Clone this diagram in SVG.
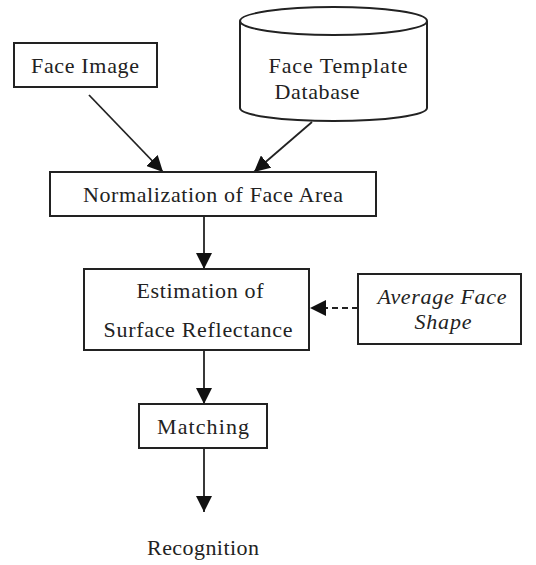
<svg xmlns="http://www.w3.org/2000/svg" width="536" height="565" viewBox="0 0 536 565">
<defs>
<style>
.box{fill:#fff;stroke:#222;stroke-width:2}
.t{font-family:"Liberation Serif","DejaVu Serif",serif;font-size:22px;fill:#222;text-anchor:middle}
.i{font-style:italic}
.c{stroke:#222;stroke-width:1.8;fill:none}
.d{stroke-dasharray:6,4}
</style>
<marker id="ah" markerUnits="userSpaceOnUse" markerWidth="16" markerHeight="16" viewBox="0 0 16 16" refX="16" refY="8" orient="auto">
<path d="M0,0 L16,8 L0,16 Z" fill="#111"/>
</marker>
</defs>
<rect width="536" height="565" fill="#fff"/>
<g id="connectors">
<line class="c" x1="89" y1="95" x2="163" y2="172" marker-end="url(#ah)"/>
<line class="c" x1="312" y1="122" x2="254" y2="172" marker-end="url(#ah)"/>
<line class="c" x1="204" y1="216" x2="204" y2="269" marker-end="url(#ah)"/>
<line class="c d" x1="358" y1="308" x2="310" y2="308" marker-end="url(#ah)"/>
<line class="c" x1="204" y1="350" x2="204" y2="404" marker-end="url(#ah)"/>
<line class="c" x1="204" y1="448" x2="204" y2="512" marker-end="url(#ah)"/>
</g>
<g id="face-image">
<rect class="box" x="14" y="43" width="143" height="44"/>
<text class="t" x="85" y="73" textLength="108">Face Image</text>
</g>
<g id="face-template-db">
<path class="box" d="M240,21 L240,108 A93.5,13 0 0 0 427,108 L427,21"/>
<ellipse class="box" cx="333.5" cy="21" rx="93.5" ry="14"/>
<text class="t" x="338" y="73" textLength="139">Face Template</text>
<text class="t" x="317" y="99" textLength="85">Database</text>
</g>
<g id="normalization">
<rect class="box" x="50" y="172" width="326" height="44"/>
<text class="t" x="213" y="202" textLength="260">Normalization of Face Area</text>
</g>
<g id="estimation">
<rect class="box" x="84" y="269" width="225" height="81"/>
<text class="t" x="200" y="298" textLength="127">Estimation of</text>
<text class="t" x="198" y="337" textLength="189">Surface Reflectance</text>
</g>
<g id="average-face-shape">
<rect class="box" x="358" y="274" width="163" height="70"/>
<text class="t i" x="442" y="304" textLength="129">Average Face</text>
<text class="t i" x="443" y="329" textLength="57">Shape</text>
</g>
<g id="matching">
<rect class="box" x="139" y="404" width="128" height="44"/>
<text class="t" x="203" y="434" textLength="92">Matching</text>
</g>
<g id="recognition">
<text class="t" x="203" y="555" textLength="112">Recognition</text>
</g>
</svg>
